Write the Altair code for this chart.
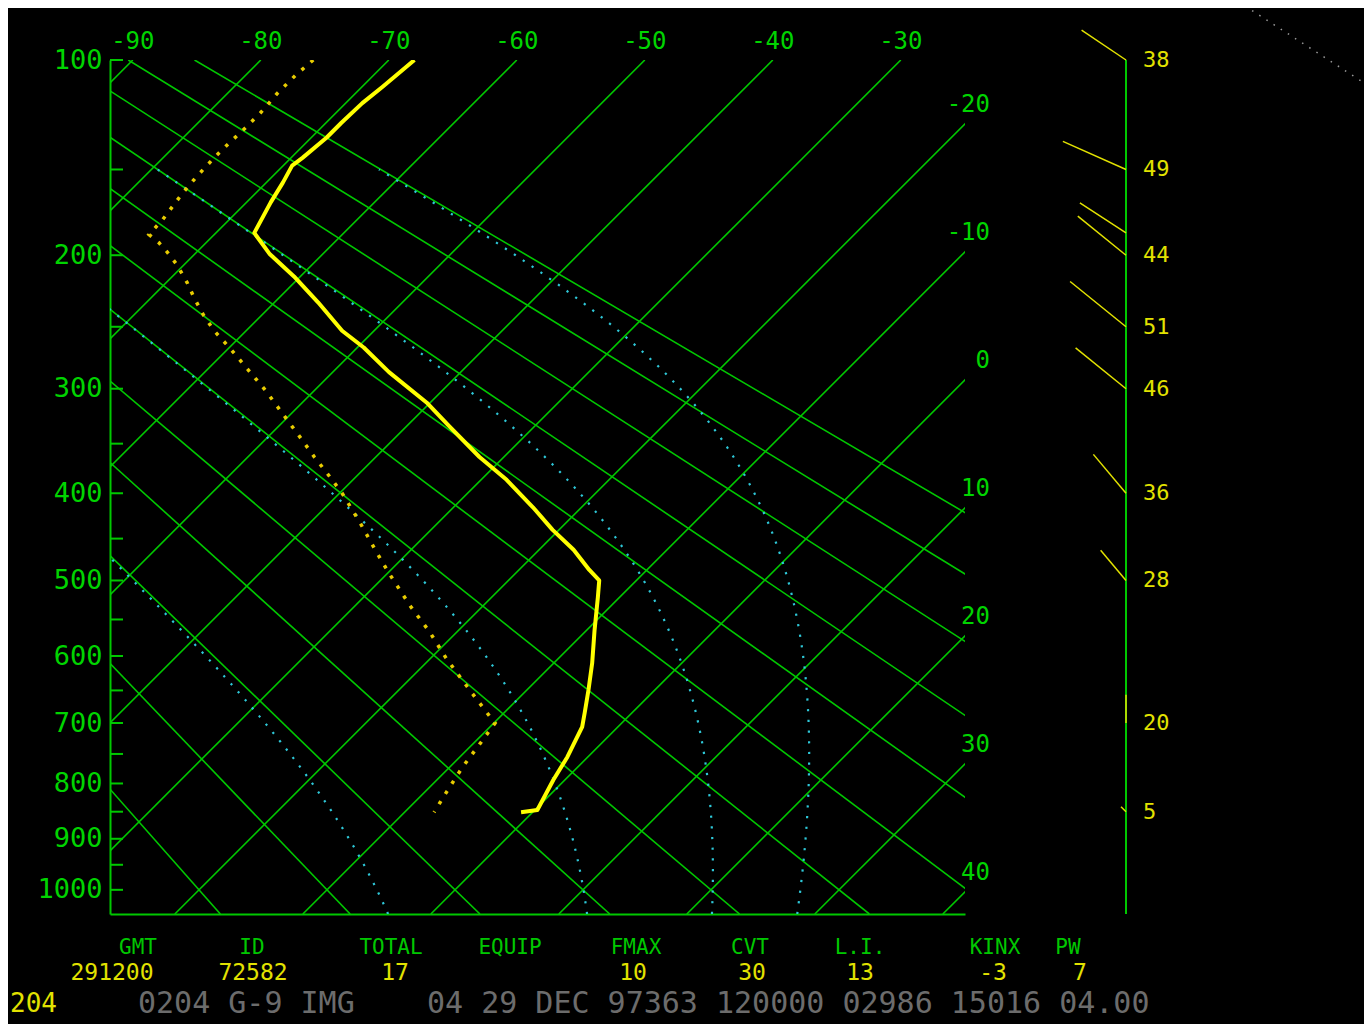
import altair as alt
import numpy as np
import pandas as pd

temp_p = [100, 111, 118, 127, 134, 144, 148, 157, 168, 186, 199, 214, 232, 253, 266, 286,
          312, 334, 363, 386, 415, 440, 463, 487, 500, 521, 564, 610, 649, 684, 706, 755,
          794, 847, 851]
temp_t = [-68.0, -68.4, -68.7, -68.8, -68.8, -69.1, -69.3, -68.7, -68.1, -67.0, -64.2, -60.5,
          -56.6, -52.5, -49.5, -45.6, -40.3, -36.6, -31.9, -28.0, -23.8, -20.5, -17.3, -14.5,
          -12.9, -11.7, -9.4, -7.0, -5.2, -3.7, -2.8, -1.6, -0.9, 0.2, -0.9]

dew_p = [100, 106, 114, 122, 129, 138, 145, 154, 163, 178, 187, 192, 198, 206, 218, 229, 241,
         253, 266, 301, 345, 363, 381, 400, 432, 463, 491, 533, 567, 603, 649, 690, 700, 730,
         772, 815, 851]
dew_t = [-75.9, -76.1, -76.1, -75.9, -75.9, -76.0, -76.0, -75.9, -75.7, -75.2, -75.1, -73.7,
         -72.3, -70.6, -68.4, -66.6, -64.6, -62.5, -60.0, -53.9, -47.3, -44.8, -42.3, -39.8,
         -36.1, -32.8, -29.9, -25.6, -22.1, -18.8, -14.5, -10.8, -9.9, -9.5, -9.0, -8.3, -7.7]

wind_p = [100, 150, 186, 200, 250, 300, 400, 500, 700, 850]
wind_dir = [304, 294, 303, 309, 309, 309, 320, 320, 360, 315]
wind_spd = [38, 49, 39, 44, 51, 46, 36, 28, 20, 5]
wind_lbl = ["38", "49", "", "44", "51", "46", "36", "28", "20", "5"]

isotherms = list(range(-90, 41, 10))          # deg C
dry_adiabats = list(range(-20, 91, 10))       # potential temperature, deg C
moist_adiabats = [0, 30, 60, 90]              # equivalent potential temperature, deg C
p_labels = list(range(100, 1001, 100))
p_ticks = list(range(100, 1001, 50))

footer_titles = ["GMT", "ID", "TOTAL", "EQUIP", "FMAX", "CVT", "L.I.", "KINX", "PW"]
footer_values = ["291200", "72582", "17", "", "10", "30", "13", "-3", "7"]
status_code = "204"
status_line = "0204 G-9 IMG    04 29 DEC 97363 120000 02986 15016 04.00"

# ---------------- geometry / style ----------------
K = 0.286
W, H = 855, 854
P_TOP, P_BOT = 100, 1050
PX_PER_C = 12.8
U0 = 1000 ** K
PX_PER_U = H / (P_BOT ** K - P_TOP ** K)
SKEW = PX_PER_U / PX_PER_C
XS_L = -345 / PX_PER_C
XS_R = XS_L + W / PX_PER_C
XS_EXPR = f"datum.t + {SKEW} * ({U0} - pow(datum.p, {K}))"

FONT = "DejaVu Sans Mono"
GREEN = "#00c800"
TXT_GREEN = "#00d400"
CYAN = "#2ec8d8"
YELLOW = "#ffff00"
DEW_Y = "#e8cc00"
WIND_Y = "#e2e200"
GRAY = "#6c6c6c"

footer_title_x = [138, 252, 391, 510, 636, 750, 860, 995, 1068]
footer_value_x = [112, 253, 395, 510, 633, 752, 860, 993, 1080]
ORX, ORY = 110, 60   # page position of plot origin

X = alt.X("xs:Q", scale=alt.Scale(domain=[XS_L, XS_R], nice=False, zero=False),
          axis=alt.Axis(labels=False, ticks=False, grid=False, domainColor=GREEN,
                        domainWidth=2, title=None))
Y = alt.Y("p:Q", scale=alt.Scale(type="pow", exponent=K, domain=[P_TOP, P_BOT],
                                 reverse=True, nice=False, zero=False),
          axis=alt.Axis(values=p_labels, ticks=False, grid=False, domainColor=GREEN,
                        domainWidth=2, labelColor=TXT_GREEN, labelFont=FONT,
                        labelFontSize=27, labelPadding=8, labelOverlap=False,
                        title=None, format="d"))

# ---------------- background lines ----------------
iso_rows = [{"id": t, "t": float(t), "p": float(p)} for t in isotherms for p in (P_TOP, P_BOT)]
iso_df = pd.DataFrame(iso_rows)

dry_rows = []
for th in dry_adiabats:
    for p in (P_TOP, P_BOT):
        dry_rows.append({"id": th, "p": float(p),
                         "t": (th + 273.15) * (p / 1000.0) ** K - 273.15})
dry_df = pd.DataFrame(dry_rows)


def theta_e(tk, p):
    tc = tk - 273.15
    es = 6.112 * np.exp(17.67 * tc / (tc + 243.5))
    rs = 0.622 * es / (p - es)
    return tk * (1000.0 / p) ** K * np.exp(2.5e6 * rs / (1004.0 * tk))


def moist_t(the_k, p):
    lo, hi = 150.0, 310.0
    for _ in range(60):
        mid = 0.5 * (lo + hi)
        if theta_e(mid, p) > the_k:
            hi = mid
        else:
            lo = mid
    return 0.5 * (lo + hi) - 273.15


moist_rows = []
for te in moist_adiabats:
    for i, p in enumerate(np.arange(1050, 149, -10)):
        moist_rows.append({"id": te, "i": i, "p": float(p), "t": moist_t(te + 273.15, p)})
moist_df = pd.DataFrame(moist_rows)

iso_layer = alt.Chart(iso_df).transform_calculate(xs=XS_EXPR).mark_line(
    color=GREEN, strokeWidth=1.6, clip=True).encode(x=X, y=Y, detail="id:N")
dry_layer = alt.Chart(dry_df).transform_calculate(xs=XS_EXPR).mark_line(
    color=GREEN, strokeWidth=1.6, clip=True).encode(x=X, y=Y, detail="id:N")
moist_layer = alt.Chart(moist_df).transform_calculate(xs=XS_EXPR).mark_line(
    color=CYAN, strokeWidth=2.2, strokeDash=[2.2, 8.5], clip=True).encode(
    x=X, y=Y, detail="id:N", order="i:Q")

# isotherm labels
top_rows, right_rows = [], []
for t in isotherms:
    xs_top = t + SKEW * (U0 - P_TOP ** K)
    if xs_top <= XS_R:
        top_rows.append({"t": float(t), "p": float(P_TOP), "lbl": str(t)})
    else:
        u = U0 - (XS_R - t) / SKEW
        right_rows.append({"t": float(t), "p": u ** (1 / K), "lbl": str(t)})
top_df = pd.DataFrame(top_rows)
right_df = pd.DataFrame(right_rows)
top_lab = alt.Chart(top_df).transform_calculate(xs=XS_EXPR).mark_text(
    font=FONT, fontSize=24, color=TXT_GREEN, dy=-18, align="center", baseline="middle"
).encode(x=X, y=Y, text="lbl:N")
right_df["xs"] = XS_R
right_lab = alt.Chart(right_df).mark_text(
    font=FONT, fontSize=24, color=TXT_GREEN, dx=25, dy=-19, align="right", baseline="middle"
).encode(x=X, y=Y, text="lbl:N")

# pressure ticks on left axis
tick_df = pd.DataFrame({"p": p_ticks})
ticks = alt.Chart(tick_df).mark_rule(color=GREEN, strokeWidth=2).encode(
    y=Y, x=alt.value(0), x2=alt.value(13))

# ---------------- profiles ----------------
temp_df = pd.DataFrame({"p": temp_p, "t": temp_t, "i": range(len(temp_p))})
dew_df = pd.DataFrame({"p": dew_p, "t": dew_t, "i": range(len(dew_p))})
dew_layer = alt.Chart(dew_df).transform_calculate(xs=XS_EXPR).mark_line(
    color=DEW_Y, strokeWidth=3.5, strokeDash=[3.5, 8.5], clip=True).encode(
    x=X, y=Y, order="i:Q")
temp_layer = alt.Chart(temp_df).transform_calculate(xs=XS_EXPR).mark_line(
    color=YELLOW, strokeWidth=4, strokeJoin="round", clip=True).encode(
    x=X, y=Y, order="i:Q")

# ---------------- winds ----------------
STAFF_X = 1126 - ORX
wind_df = pd.DataFrame({"p": wind_p, "dir": wind_dir, "spd": wind_spd, "lbl": wind_lbl})
staff = alt.Chart(pd.DataFrame({"a": [0]})).mark_rule(color=GREEN, strokeWidth=2).encode(
    x=alt.value(STAFF_X), y=alt.value(0), y2=alt.value(H))
sticks = alt.Chart(wind_df).transform_calculate(
    sz="pow(2 * 1.41 * datum.spd, 2)").mark_point(
    shape="M0,0L0,-1", filled=False, color=WIND_Y, stroke=WIND_Y, strokeWidth=1.5,
    opacity=1).encode(
    x=alt.value(STAFF_X), y=Y, angle=alt.Angle("dir:Q", scale=None),
    size=alt.Size("sz:Q", scale=None))
wind_text = alt.Chart(wind_df).mark_text(
    font=FONT, fontSize=22, color=WIND_Y, align="left", baseline="middle").encode(
    x=alt.value(STAFF_X + 17), y=Y, text="lbl:N")

# ---------------- footer ----------------
NBSP = "\u00a0"
footer_layers = []
for ttl, tx in zip(footer_titles, footer_title_x):
    footer_layers.append(alt.Chart(pd.DataFrame({"s": [ttl]})).mark_text(
        font=FONT, fontSize=21, color=GREEN, align="center", baseline="middle").encode(
        text="s:N", x=alt.value(tx - ORX), y=alt.value(948 - ORY)))
for val, vx in zip(footer_values, footer_value_x):
    if val:
        footer_layers.append(alt.Chart(pd.DataFrame({"s": [val]})).mark_text(
            font=FONT, fontSize=23, color=WIND_Y, align="center", baseline="middle").encode(
            text="s:N", x=alt.value(vx - ORX), y=alt.value(973 - ORY)))
footer_layers.append(alt.Chart(pd.DataFrame({"s": [status_code]})).mark_text(
    font=FONT, fontSize=26, color=WIND_Y, align="left", baseline="middle").encode(
    text="s:N", x=alt.value(10 - ORX), y=alt.value(1004 - ORY)))
footer_layers.append(alt.Chart(pd.DataFrame({"s": [status_line.replace(" ", NBSP)]})).mark_text(
    font=FONT, fontSize=30, color=GRAY, align="left", baseline="middle").encode(
    text="s:N", x=alt.value(138 - ORX), y=alt.value(1004 - ORY)))

artifact = alt.Chart(pd.DataFrame({"a": [0]})).mark_rule(
    color="#9a9a9a", strokeWidth=1.5, strokeDash=[1.5, 7]).encode(
    x=alt.value(1245 - ORX), x2=alt.value(1372 - ORX),
    y=alt.value(6 - ORY), y2=alt.value(88 - ORY))

chart = alt.layer(
    iso_layer, dry_layer, moist_layer, ticks, dew_layer, temp_layer,
    top_lab, right_lab, staff, sticks, wind_text, artifact, *footer_layers
).properties(
    width=W, height=H,
    autosize=alt.AutoSizeParams(type="none"),
    padding={"left": 102, "top": 52, "right": 399, "bottom": 110},
    background="#000000",
).configure_view(strokeWidth=0)

chart.save("out.html", embed_options={"renderer": "svg", "actions": False})
